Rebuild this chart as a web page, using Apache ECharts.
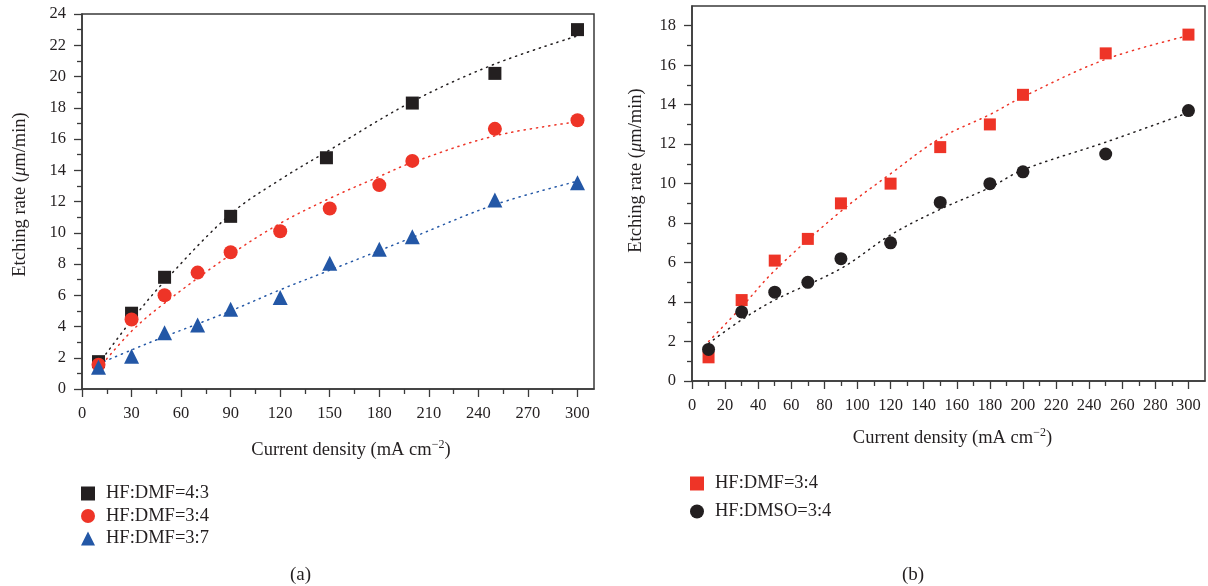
<!DOCTYPE html>
<html>
<head>
<meta charset="utf-8">
<script src="https://cdn.jsdelivr.net/npm/echarts@6/dist/echarts.min.js"></script>
<style>
  html, body { margin: 0; padding: 0; background: #fff; }
  #chart { width: 1208px; height: 586px; }
</style>
</head>
<body>
<div id="chart"></div>
<script>
// (a) measured points
const xA43 = [10, 30, 50, 90, 148, 200, 250, 300]
const yA43 = [1.75, 4.85, 7.15, 11.05, 14.8, 18.3, 20.2, 23.0]
const xA34 = [10, 30, 50, 70, 90, 120, 150, 180, 200, 250, 300]
const yA34 = [1.55, 4.45, 6.0, 7.45, 8.75, 10.1, 11.55, 13.05, 14.6, 16.65, 17.2]
const xA37 = [10, 30, 50, 70, 90, 120, 150, 180, 200, 250, 300]
const yA37 = [1.4, 2.1, 3.6, 4.1, 5.1, 5.85, 8.05, 8.95, 9.75, 12.1, 13.2]
// (a) fitted curves
const fxA43 = [10, 30, 50, 90, 120, 150, 200, 250, 300]
const fyA43 = [1.6, 4.4, 6.9, 11.2, 13.4, 15.3, 18.4, 20.8, 22.6]
const fxA34 = [10, 30, 50, 90, 120, 150, 180, 200, 250, 300]
const fyA34 = [1.3, 3.7, 5.5, 8.6, 10.6, 12.2, 13.6, 14.5, 16.2, 17.1]
const fxA37 = [10, 30, 50, 90, 120, 150, 200, 250, 300]
const fyA37 = [1.6, 2.5, 3.35, 5.0, 6.35, 7.6, 9.7, 11.8, 13.3]

// (b) measured points
const xB = [10, 30, 50, 70, 90, 120, 150, 180, 200, 250, 300]
const yBdmf = [1.2, 4.1, 6.1, 7.2, 9.0, 10.0, 11.85, 13.0, 14.5, 16.6, 17.55]
const yBdmso = [1.6, 3.5, 4.5, 5.0, 6.2, 7.0, 9.05, 10.0, 10.6, 11.5, 13.7]
// (b) fitted curves
const fxB = [10, 30, 50, 90, 120, 150, 180, 200, 250, 300]
const fyBdmf = [2.0, 3.75, 5.6, 8.6, 10.5, 12.3, 13.5, 14.4, 16.3, 17.5]
const fyBdmso = [1.9, 3.1, 4.1, 5.7, 7.4, 8.7, 9.8, 10.7, 12.1, 13.6]

// tick values
const xTicksA = [0, 30, 60, 90, 120, 150, 180, 210, 240, 270, 300]
const yTicksA = [0, 2, 4, 6, 8, 10, 12, 14, 16, 18, 20, 22, 24]
const xTicksB = [0, 20, 40, 60, 80, 100, 120, 140, 160, 180, 200, 220, 240, 260, 280, 300]
const yTicksB = [0, 2, 4, 6, 8, 10, 12, 14, 16, 18]

const FONT = '"Liberation Serif", "DejaVu Serif", serif'
const TXT = '#231f20'
const AX = '#3a3a3a'
const BLACK = '#231f20', RED = '#ee3427', BLUE = '#2357a6'

const zip = (xs, ys) => xs.map((x, i) => [x, ys[i]])

const xAxisBase = (idx, max, interval, ticks, gap, shift) => ({
  type: 'value', gridIndex: idx, min: 0, max: max, interval: interval,
  name: 'Current density (mA cm{sup|\u22122})',
  nameLocation: 'middle', nameGap: gap,
  nameTextStyle: {
    fontFamily: FONT, fontSize: 18.5, color: TXT, lineHeight: 22,
    padding: [0, 0, 0, shift],
    rich: { sup: { fontFamily: FONT, fontSize: 12, color: TXT, verticalAlign: 'top', lineHeight: 13 } }
  },
  axisLine: { show: true, lineStyle: { color: AX, width: 1.5 } },
  axisTick: { show: true, length: 8, customValues: ticks, lineStyle: { color: AX, width: 1.3 } },
  minorTick: { show: true, splitNumber: 2, length: 5, lineStyle: { color: AX, width: 1.3 } },
  axisLabel: { customValues: ticks, fontFamily: FONT, fontSize: 16.5, color: TXT, margin: 16 },
  splitLine: { show: false }
})

const yAxisBase = (idx, max, ticks, gap, shift) => ({
  type: 'value', gridIndex: idx, min: 0, max: max, interval: 2,
  name: 'Etching rate ({it|\u03bc}m/min)',
  nameLocation: 'middle', nameGap: gap,
  nameTextStyle: {
    fontFamily: FONT, fontSize: 18.5, color: TXT, lineHeight: 22,
    padding: [0, 0, 0, shift],
    rich: { it: { fontFamily: FONT, fontSize: 18.5, color: TXT, fontStyle: 'italic', lineHeight: 22 } }
  },
  axisLine: { show: true, lineStyle: { color: AX, width: 1.5 } },
  axisTick: { show: true, length: 8, customValues: ticks, lineStyle: { color: AX, width: 1.3 } },
  minorTick: { show: true, splitNumber: 2, length: 5, lineStyle: { color: AX, width: 1.3 } },
  axisLabel: { customValues: ticks, fontFamily: FONT, fontSize: 16.5, color: TXT, margin: 16 },
  splitLine: { show: false }
})

const pts = (name, idx, data, color, symbol, size) => ({
  name: name, type: 'scatter', xAxisIndex: idx, yAxisIndex: idx,
  data: data, symbol: symbol, symbolSize: size,
  itemStyle: { color: color, opacity: 1 }, z: 3
})

const fit = (idx, data, color) => ({
  type: 'line', xAxisIndex: idx, yAxisIndex: idx, data: data,
  smooth: 0.35, showSymbol: false, silent: true,
  lineStyle: { color: color, width: 1.5, type: [1.2, 5], cap: 'round' }, z: 2
})

const legendBase = {
  orient: 'vertical', itemWidth: 14, itemHeight: 14, padding: 0,
  textStyle: { fontFamily: FONT, fontSize: 18.5, color: TXT, lineHeight: 14, padding: [0, 0, 0, 6] }
}

const option = {
  backgroundColor: '#fff',
  animation: false,
  grid: [
    { left: 82, top: 14, width: 512, height: 375, show: true, borderColor: AX, borderWidth: 1.5 },
    { left: 692, top: 6, width: 513, height: 375, show: true, borderColor: AX, borderWidth: 1.5 }
  ],
  xAxis: [
    xAxisBase(0, 310, 30, xTicksA, 50, 26),
    xAxisBase(1, 310, 20, xTicksB, 46, 8)
  ],
  yAxis: [
    yAxisBase(0, 24, yTicksA, 51, 14),
    yAxisBase(1, 19, yTicksB, 45, 46)
  ],
  legend: [
    Object.assign({}, legendBase, { left: 81, top: 484, itemGap: 3.5,
      data: ['HF:DMF=4:3', 'HF:DMF=3:4', 'HF:DMF=3:7'] }),
    Object.assign({}, legendBase, { left: 690, top: 474, itemGap: 9,
      data: ['HF:DMF=3:4 ', 'HF:DMSO=3:4'] })
  ],
  graphic: [
    { type: 'text', left: 290, top: 566, style: { text: '(a)', font: '19px ' + FONT, fill: TXT } },
    { type: 'text', left: 902, top: 566, style: { text: '(b)', font: '19px ' + FONT, fill: TXT } }
  ],
  series: [
    fit(0, zip(fxA43, fyA43), BLACK),
    fit(0, zip(fxA34, fyA34), RED),
    fit(0, zip(fxA37, fyA37), BLUE),
    pts('HF:DMF=4:3', 0, zip(xA43, yA43), BLACK, 'rect', 13),
    pts('HF:DMF=3:4', 0, zip(xA34, yA34), RED, 'circle', 14),
    pts('HF:DMF=3:7', 0, zip(xA37, yA37), BLUE, 'triangle', 15),
    fit(1, zip(fxB, fyBdmf), RED),
    fit(1, zip(fxB, fyBdmso), BLACK),
    pts('HF:DMF=3:4 ', 1, zip(xB, yBdmf), RED, 'rect', 12),
    pts('HF:DMSO=3:4', 1, zip(xB, yBdmso), BLACK, 'circle', 13)
  ]
}

const chart = echarts.init(document.getElementById('chart'), null, { renderer: 'canvas' })
chart.setOption(option)
</script>
</body>
</html>
